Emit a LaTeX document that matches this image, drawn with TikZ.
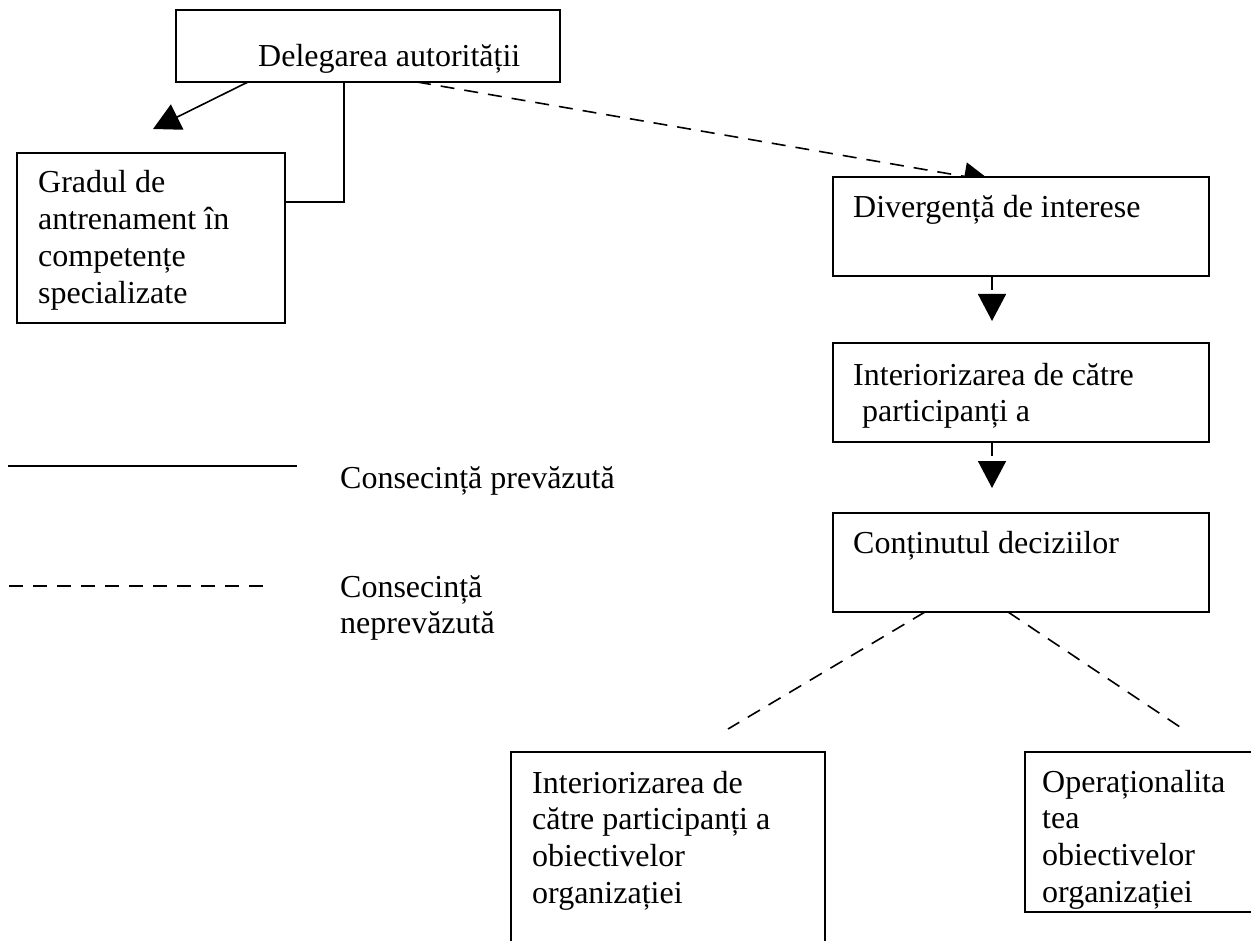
\documentclass[tikz,border=0pt]{standalone}
\usepackage{fontspec}
\setmainfont{Liberation Serif}
\usetikzlibrary{arrows.meta,calc}
\pgfdeclarelayer{behind}
\pgfsetlayers{behind,main}
\begin{document}
\begin{tikzpicture}[x=1pt,y=-1pt,
  box/.style={draw, line width=1.6pt, fill=white, outer sep=0pt, inner sep=0pt},
  txt/.style={anchor=base west, inner sep=0pt, align=left,
              font=\fontsize{32pt}{36.7pt}\selectfont},
  link/.style={line width=1.6pt},
  unforeseen/.style={link, dash pattern=on 14pt off 10pt},
  head/.style={-{Triangle[length=27pt,width=28pt]}}
]
\clip (0,0) rectangle (1251,941);
\begin{pgfonlayer}{behind}
  \fill[white] (0,0) rectangle (1251,941);
\end{pgfonlayer}

% boxes
\node[box, minimum width=384pt, minimum height=72pt]  (del)   at (368,46)    {};
\node[box, minimum width=268pt, minimum height=170pt] (grad)  at (151,238)   {};
\node[box, minimum width=376pt, minimum height=99pt]  (div)   at (1021,226.5) {};
\node[box, minimum width=376pt, minimum height=99pt]  (inter) at (1021,392.5) {};
\node[box, minimum width=376pt, minimum height=99pt]  (cont)  at (1021,562.5) {};
\node[box, minimum width=314pt, minimum height=208pt] (obj)   at (668,856)   {};
\node[box, minimum width=240pt, minimum height=160pt] (oper)  at (1145,832)  {};

% box texts (multi-line nodes are anchored at the baseline of their last line)
\node[txt] (delT)   at ($(del.north west)+(82,57)$)     {Delegarea autorității};
\node[txt] (gradT)  at ($(grad.north west)+(21,150.1)$) {Gradul de\\antrenament în\\competențe\\specializate};
\node[txt] (divT)   at ($(div.north west)+(20,41)$)     {Divergență de interese};
\node[txt] (interT) at ($(inter.north west)+(20,78.7)$) {Interiorizarea de către\\\hspace*{0.28em}participanți a};
\node[txt] (contT)  at ($(cont.north west)+(20,40)$)    {Conținutul deciziilor};
\node[txt] (objT)   at ($(obj.north west)+(21,151.1)$)  {Interiorizarea de\\către participanți a\\obiectivelor\\organizației};
\node[txt] (operT)  at ($(oper.north west)+(17,150.1)$) {Operaționalita\\tea\\obiectivelor\\organizației};

% foreseen consequences
\draw[link, head] ($(del.south west)+(72,0)$) -- ($(grad.north west)+(136,-24)$);
\draw[link] ($(del.south west)+(168,0)$) |- ($(grad.north east)+(0,49)$);

% unforeseen consequences
\begin{pgfonlayer}{behind}
  \draw[unforeseen, head] ($(del.south west)+(241,0)$) -- ($(div.north west)+(158,4)$);
\end{pgfonlayer}
\draw[unforeseen, head] ($(div.south west)+(159,0)$) -- ($(inter.north west)+(159,-22)$);
\draw[unforeseen, head] ($(inter.south west)+(159,0)$) -- ($(cont.north west)+(159,-25)$);
\coordinate (objTop)  at ($(obj.north west)+(217,-23)$);
\coordinate (operTop) at ($(oper.north west)+(158,-23)$);
\draw[unforeseen] ($(cont.south west)+(92,0)$) -- (objTop);
\draw[unforeseen] ($(cont.south west)+(175,0)$) -- (operTop);

% legend
\coordinate (solidA) at (8,466);
\coordinate (solidB) at (297,466);
\coordinate (dashA)  at (9,586);
\coordinate (dashB)  at (268,586);
\draw[link] (solidA) -- (solidB);
\draw[unforeseen] (dashA) -- (dashB);
\node[txt] (legSolid) at (340,488)   {Consecință prevăzută};
\node[txt] (legDash)  at (340,633.7) {Consecință\\neprevăzută};
\end{tikzpicture}
\end{document}
